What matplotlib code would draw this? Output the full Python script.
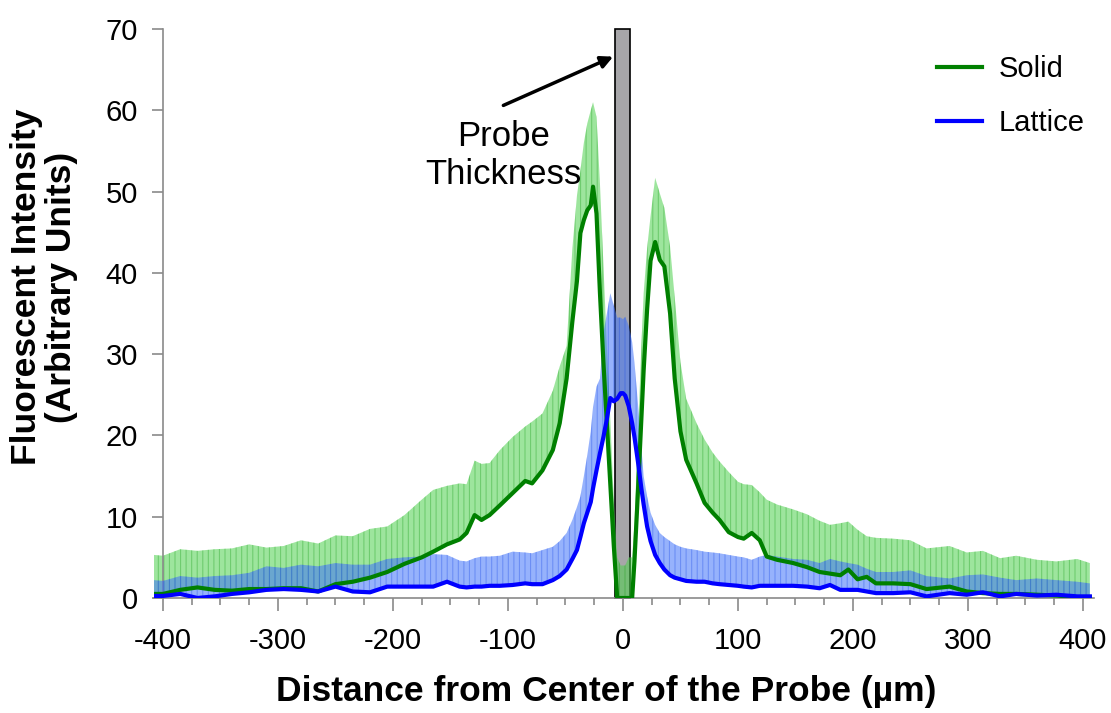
import matplotlib
matplotlib.use("Agg")
import matplotlib.pyplot as plt
from matplotlib.ticker import MultipleLocator

plt.rcParams['font.family'] = ['Liberation Sans', 'DejaVu Sans']
plt.rcParams['axes.unicode_minus'] = False
plt.rcParams['hatch.linewidth'] = 0.8

# ---------------- data ----------------
x = [-408, -400, -385, -370, -355, -340, -325, -310, -295, -280,
     -265, -250, -235, -220, -205, -190, -175, -165, -153, -142,
     -136, -129, -123, -116, -107, -96, -85, -79, -70, -61,
     -55, -49, -44, -40, -37, -34, -31, -28, -26, -23,
     -20, -17, -14, -11, -8, -5, -2, 0, 2, 5,
     8, 10, 13, 16, 18, 21, 24, 28, 32, 36,
     41, 45, 50, 55, 64, 71, 78, 84, 92, 100,
     105, 112, 119, 125, 134, 148, 160, 171, 180, 189,
     196, 204, 212, 220, 235, 250, 264, 284, 299, 313,
     328, 342, 360, 377, 395, 406]

solid_mean = [0.5, 0.5, 1.0, 1.3, 1.0, 0.9, 1.1, 1.1, 1.2, 1.2,
              0.8, 1.7, 2.0, 2.5, 3.2, 4.2, 5.0, 5.7, 6.6, 7.2,
              8.0, 10.2, 9.6, 10.2, 11.4, 12.9, 14.4, 14.1, 15.7, 18.2,
              21.5, 27.0, 34.0, 39.0, 44.9, 46.5, 47.7, 48.3, 50.6, 47.3,
              37.5, 29.0, 21.5, 14.0, 6.5, 0.0, 0.0, 0.0, 0.0, 0.0,
              0.0, 4.5, 13.0, 22.0, 28.0, 35.5, 41.5, 43.8, 41.6, 40.8,
              35.0, 27.0, 20.5, 17.0, 14.1, 11.7, 10.5, 9.6, 8.1, 7.5,
              7.3, 8.0, 7.1, 5.1, 4.7, 4.3, 3.8, 3.2, 3.0, 2.8,
              3.5, 2.3, 2.6, 1.8, 1.8, 1.7, 1.1, 1.4, 0.8, 0.6,
              0.5, 0.5, 0.4, 0.3, 0.1, 0.1]

solid_upper = [5.3, 5.2, 6.0, 5.8, 6.0, 6.1, 6.6, 6.2, 6.4, 7.1,
               6.7, 7.7, 7.6, 8.5, 8.8, 10.2, 12.1, 13.3, 13.8, 14.1,
               14.0, 16.9, 16.5, 16.6, 18.2, 19.8, 21.1, 21.7, 22.7, 25.5,
               28.5, 31.0, 43.0, 49.5, 52.6, 56.0, 58.4, 60.0, 61.0, 59.2,
               51.0, 41.0, 31.0, 22.0, 12.0, 5.0, 4.0, 4.0, 4.0, 5.0,
               5.0, 9.0, 20.0, 31.0, 37.5, 43.0, 47.0, 51.7, 49.8, 48.0,
               43.2, 37.0, 29.0, 24.5, 21.5, 19.5, 17.9, 16.8, 15.5, 14.3,
               14.0, 13.9, 13.0, 12.1, 11.5, 10.9, 10.3, 9.5, 9.0, 9.2,
               9.4, 8.4, 7.6, 7.4, 7.3, 7.1, 6.1, 6.4, 5.6, 5.8,
               4.9, 5.2, 4.7, 4.5, 4.8, 4.3]

lattice_mean = [0.25, 0.25, 0.5, 0.0, 0.2, 0.5, 0.7, 1.0, 1.1, 1.0,
                0.8, 1.4, 0.8, 0.7, 1.4, 1.4, 1.4, 1.4, 2.0, 1.4,
                1.3, 1.4, 1.4, 1.5, 1.5, 1.6, 1.8, 1.7, 1.7, 2.2,
                2.7, 3.5, 4.8, 5.9, 7.5, 9.2, 10.5, 11.8, 13.5, 15.7,
                17.8, 19.8, 22.0, 24.6, 24.2, 24.5, 25.2, 25.2, 24.9, 23.6,
                21.5, 19.8, 16.8, 13.5, 11.5, 8.8, 7.0, 5.3, 4.3, 3.5,
                2.8, 2.5, 2.3, 2.1, 2.0, 2.0, 1.8, 1.7, 1.6, 1.5,
                1.4, 1.3, 1.5, 1.5, 1.5, 1.5, 1.4, 1.2, 1.6, 1.0,
                1.0, 1.0, 0.8, 0.6, 0.6, 0.7, 0.2, 0.6, 0.4, 0.7,
                0.2, 0.5, 0.3, 0.4, 0.2, 0.2]

lattice_upper = [2.2, 2.1, 2.7, 2.5, 2.7, 2.8, 3.1, 3.9, 3.7, 4.1,
                 3.9, 4.3, 4.1, 4.1, 4.8, 5.0, 5.1, 5.4, 5.3, 4.6,
                 4.5, 4.9, 5.1, 5.1, 5.2, 5.7, 5.6, 5.5, 5.9, 6.3,
                 7.0, 8.0, 9.6, 11.2, 12.5, 15.0, 17.6, 20.5, 23.5, 26.0,
                 27.0, 32.6, 35.0, 37.5, 36.0, 34.5, 34.5, 34.3, 34.6, 33.5,
                 31.5, 29.0, 24.0, 18.5, 15.0, 12.5, 10.5, 9.0, 8.0, 7.5,
                 7.0, 6.6, 6.3, 6.1, 5.9, 5.7, 5.6, 5.5, 5.3, 5.1,
                 5.0, 4.7, 5.1, 5.3, 5.1, 4.8, 4.7, 4.3, 4.8, 4.5,
                 4.3, 4.1, 3.6, 3.2, 3.2, 3.4, 2.7, 2.4, 2.8, 2.9,
                 2.5, 2.2, 2.4, 2.2, 2.0, 1.8]

series_names = ['Solid', 'Lattice']
probe_left, probe_right, probe_height = -6.5, 6.0, 70

xticks = [-400, -300, -200, -100, 0, 100, 200, 300, 400]
xtick_labels = ['-400', '-300', '-200', '-100', '0', '100', '200', '300', '400']
yticks = [0, 10, 20, 30, 40, 50, 60, 70]
ytick_labels = ['0', '10', '20', '30', '40', '50', '60', '70']

# ---------------- figure ----------------
fig = plt.figure(figsize=(11.11, 7.13), dpi=100)
ax = fig.add_axes([0.1384, 0.1613, 0.8467, 0.798])

ax.bar([(probe_left + probe_right) / 2], [probe_height],
       width=probe_right - probe_left, color='#a7a6a9',
       edgecolor='black', linewidth=1.2, zorder=1, clip_on=False)

ax.fill_between(x, solid_mean, solid_upper,
                facecolor=(0.30, 0.82, 0.30, 0.55),
                edgecolor=(0.10, 0.62, 0.10, 0.35),
                hatch='|||', linewidth=0, zorder=2)
ax.fill_between(x, lattice_mean, lattice_upper,
                facecolor=(0.25, 0.45, 0.98, 0.55),
                edgecolor=(0.12, 0.30, 0.90, 0.35),
                hatch='|||', linewidth=0, zorder=3)

ax.plot(x, solid_mean, color='#008000', lw=3, label=series_names[0], zorder=4)
ax.plot(x, lattice_mean, color='#0000ff', lw=3, label=series_names[1], zorder=5)

ax.set_xlim(-408, 410)
ax.set_ylim(0, 70)

for s in ['top', 'right']:
    ax.spines[s].set_visible(False)
ax.spines['left'].set_position(('data', -400))
for s in ['left', 'bottom']:
    ax.spines[s].set_color('#8a8a8a')
    ax.spines[s].set_linewidth(1.2)

ax.set_xticks(xticks)
ax.set_xticklabels(xtick_labels)
ax.set_yticks(yticks)
ax.set_yticklabels(ytick_labels)
ax.xaxis.set_minor_locator(MultipleLocator(25))
ax.tick_params(axis='x', which='major', direction='out', length=9, width=1.2,
               color='#8a8a8a', labelsize=21, pad=12)
ax.tick_params(axis='x', which='minor', direction='out', length=5, width=1.2,
               color='#8a8a8a')
ax.tick_params(axis='y', which='major', direction='out', length=8, width=1.2,
               color='#8a8a8a', labelsize=21, pad=10)

fig.text(44 / 1111, 1 - 287 / 713, 'Fluorescent Intensity\n(Arbitrary Units)',
         rotation=90, ha='center', va='center', multialignment='center',
         fontsize=25.5, fontweight='bold', linespacing=1.1)
fig.text(606 / 1111, 1 - 692 / 713, 'Distance from Center of the Probe (\u00b5m)',
         ha='center', va='center', fontsize=25.5, fontweight='bold')

ax.text(-104, 54.4, 'Probe\nThickness', ha='center', va='center',
        fontsize=25, linespacing=1.2)
ax.annotate('', xy=(-8.5, 66.6), xytext=(-104, 60.6),
            arrowprops=dict(arrowstyle='-|>', color='black', lw=2.5,
                            mutation_scale=18, shrinkA=0, shrinkB=0))

leg = ax.legend(loc='upper left', bbox_to_anchor=(937 / 1111, 1 - 55 / 713),
                bbox_transform=fig.transFigure, frameon=False, fontsize=21,
                handlelength=1.55, handletextpad=0.55, labelspacing=0.9,
                borderpad=0, borderaxespad=0)

fig.savefig('out.png', dpi=100)
